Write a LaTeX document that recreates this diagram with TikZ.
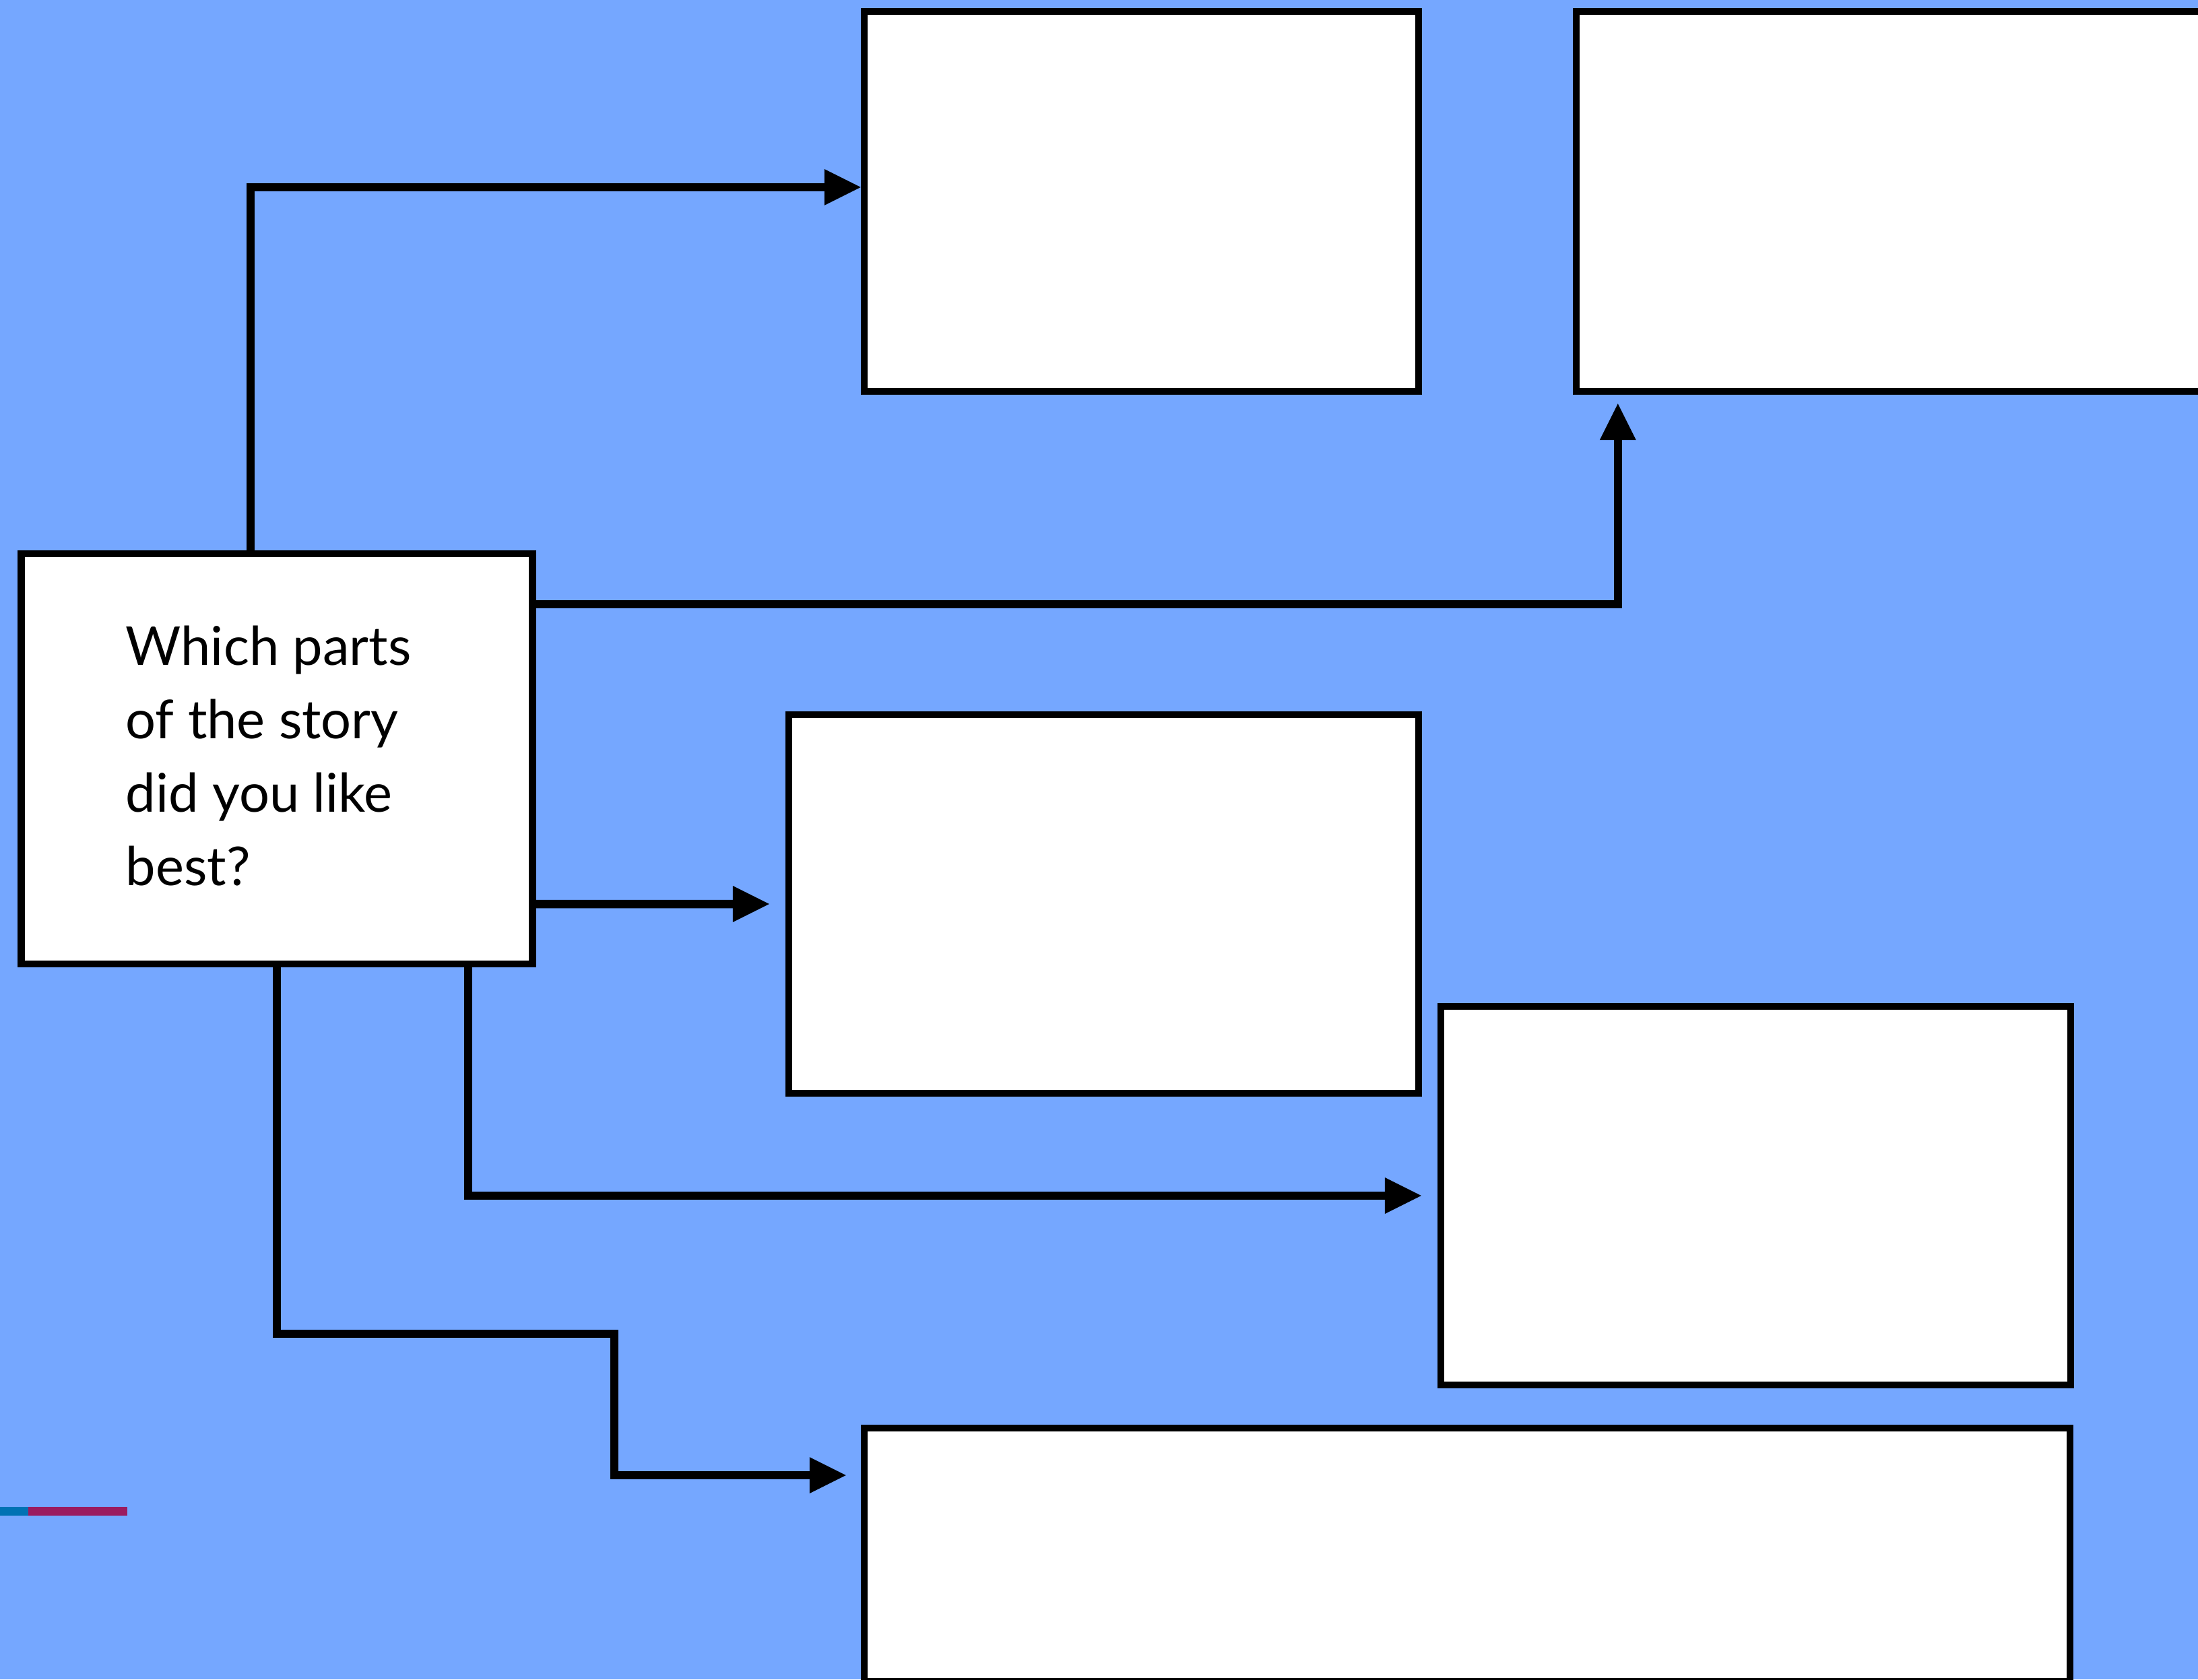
\documentclass[tikz,border=0pt]{standalone}
\usepackage{fontspec}
\setmainfont{Lato}
\usetikzlibrary{arrows.meta}
\definecolor{bgblue}{RGB}{117,167,255}
\definecolor{barblue}{RGB}{0,114,180}
\definecolor{barmag}{RGB}{155,27,96}
\tikzset{
  qbox/.style={rectangle, draw=black, line width=1.05mm, fill=white, inner sep=0pt},
  conn/.style={line width=1.25mm, draw=black, -{Triangle[length=5.4mm,width=5.4mm,line width=0pt]}}
}
\begin{document}
\begin{tikzpicture}
\useasboundingbox (0,0) rectangle (32.63,24.93);
\clip (0,0) rectangle (32.63,24.93);
\fill[bgblue] (0,0) rectangle (32.63,24.93);
% small bar bottom left
\fill[barblue] (0,2.43) rectangle (0.42,2.56);
\fill[barmag] (0.42,2.43) rectangle (1.89,2.56);
% boxes
\node[qbox, minimum width=7.59cm, minimum height=6.09cm] (Q) at (4.11,13.665) {};
\node[qbox, minimum width=8.23cm, minimum height=5.64cm] (A) at (16.945,21.94) {};
\node[qbox, minimum width=9.80cm, minimum height=5.64cm] (B) at (28.30,21.94) {};
\node[qbox, minimum width=9.35cm, minimum height=5.62cm] (C) at (16.385,11.51) {};
\node[qbox, minimum width=9.35cm, minimum height=5.62cm] (D) at (26.065,7.18) {};
\node[qbox, minimum width=17.90cm, minimum height=3.76cm] (E) at (21.78,1.85) {};
% text (base anchor = baseline of last line)
\node[anchor=base west, align=left, inner sep=0pt, font=\fontsize{22.6}{31}\selectfont] (T) at (1.86,11.79) {Which parts\\of the story\\did you like\\best?};
% connectors
\coordinate (m5) at (9.12,5.13);
\draw[conn] ([xshift=-3.9mm]Q.north) |- ([yshift=2.1mm]A.west);
\draw[conn] ([yshift=22.95mm]Q.east) -| ([xshift=6.7mm,yshift=-1.3mm]B.south west);
\draw[conn] ([yshift=-21.55mm]Q.east) -- ([xshift=-2.4mm]C.west);
\draw[conn] ([xshift=28.4mm]Q.south) |- ([xshift=-2.4mm]D.west);
\draw[conn] (Q.south) |- (m5) |- ([xshift=-2.2mm,yshift=11.8mm]E.west);
\end{tikzpicture}
\end{document}
